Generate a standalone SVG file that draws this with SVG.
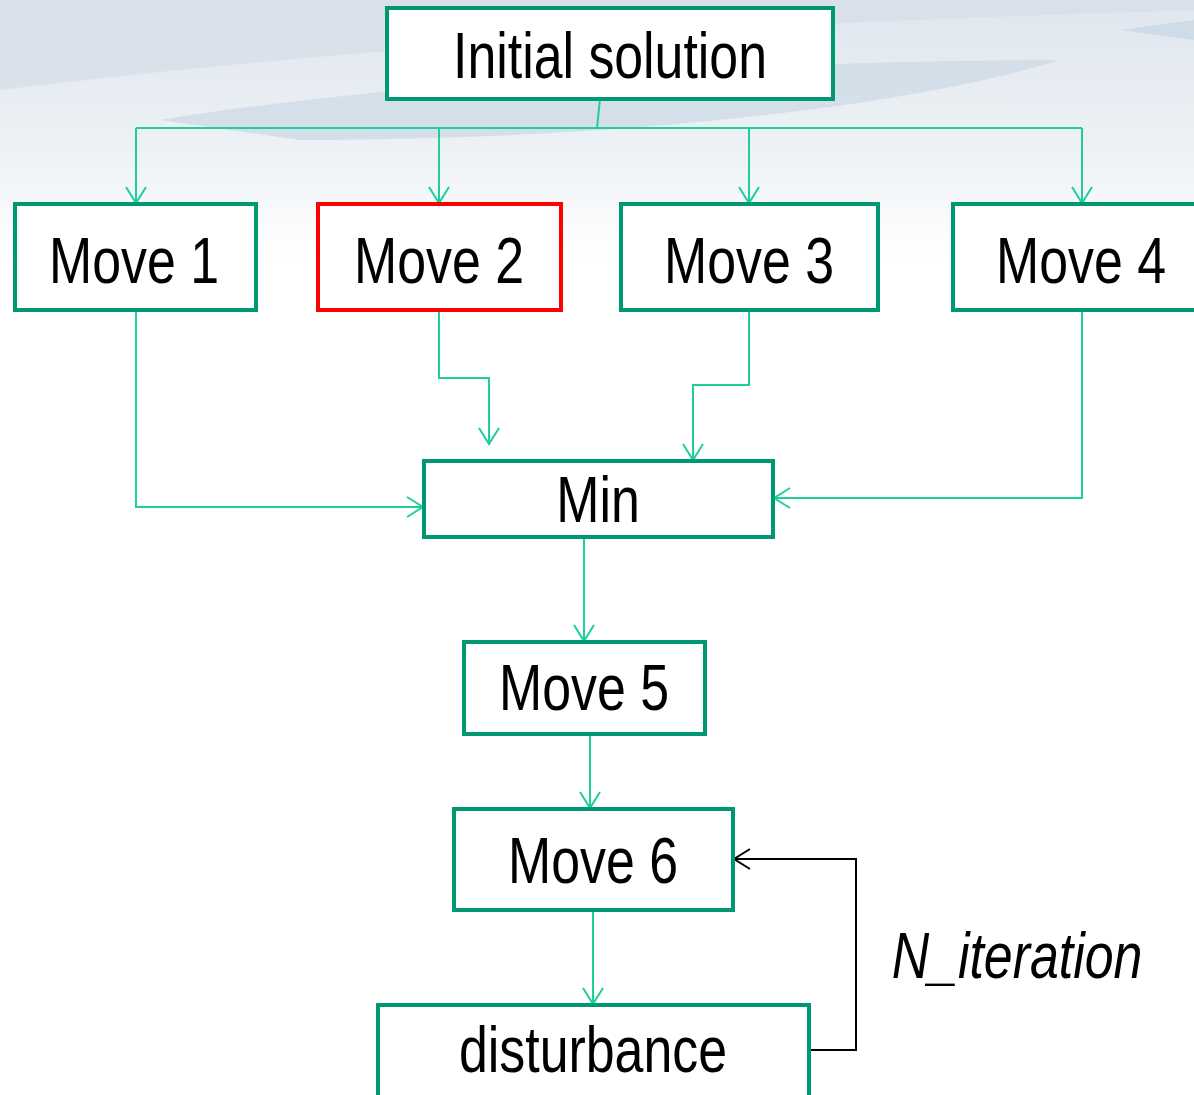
<svg xmlns="http://www.w3.org/2000/svg" width="1194" height="1095" viewBox="0 0 1194 1095">
<defs>
<linearGradient id="bg" x1="0" y1="0" x2="0" y2="1">
<stop offset="0" stop-color="#dfe6ee"/>
<stop offset="0.6" stop-color="#eef2f6"/>
<stop offset="1" stop-color="#ffffff"/>
</linearGradient>
<marker id="ag" viewBox="0 0 20 24" refX="18" refY="12" markerWidth="20" markerHeight="24" markerUnits="userSpaceOnUse" orient="auto">
<path d="M2,2 L18,12 L2,22" fill="none" stroke="#1ecf9c" stroke-width="2"/>
</marker>
<marker id="ak" viewBox="0 0 20 24" refX="18" refY="12" markerWidth="20" markerHeight="24" markerUnits="userSpaceOnUse" orient="auto">
<path d="M2,2 L18,12 L2,22" fill="none" stroke="#000" stroke-width="2"/>
</marker>
</defs>
<style>
.box{fill:#fff;stroke:#009872;stroke-width:4}
.red{fill:#fff;stroke:#ff0000;stroke-width:4}
.lbl{font-family:"Liberation Sans Narrow","Arial Narrow","Liberation Sans",sans-serif;font-size:64px;fill:#000;text-anchor:middle}
.c{fill:none;stroke:#1ecf9c;stroke-width:2}
.k{fill:none;stroke:#000;stroke-width:2}
</style>
<rect width="1194" height="1095" fill="#fff"/>
<rect width="1194" height="260" fill="url(#bg)"/>
<path d="M0,0 L1194,0 L1194,10 C900,20 500,30 0,90 Z" fill="#d4dde7" opacity="0.7"/>
<path d="M160,120 C400,80 800,60 1060,60 C900,110 600,140 300,140 Z" fill="#cfdbe6" opacity="0.8"/>
<path d="M1120,30 L1194,20 L1194,40 Z" fill="#cfdbe6"/>

<g id="connectors">
<path class="c" d="M600,99 L597,128"/>
<path class="c" d="M136,128 L1082,128"/>
<path class="c" d="M136,128 L136,203" marker-end="url(#ag)"/>
<path class="c" d="M439,128 L439,203" marker-end="url(#ag)"/>
<path class="c" d="M749,128 L749,203" marker-end="url(#ag)"/>
<path class="c" d="M1082,128 L1082,203" marker-end="url(#ag)"/>
<path class="c" d="M136,310 L136,507 L423,507" marker-end="url(#ag)"/>
<path class="c" d="M439,310 L439,378 L489,378 L489,444" marker-end="url(#ag)"/>
<path class="c" d="M749,310 L749,385 L693,385 L693,460" marker-end="url(#ag)"/>
<path class="c" d="M1082,310 L1082,498 L774,498" marker-end="url(#ag)"/>
<path class="c" d="M584,537 L584,641" marker-end="url(#ag)"/>
<path class="c" d="M590,734 L590,808" marker-end="url(#ag)"/>
<path class="c" d="M593,910 L593,1004" marker-end="url(#ag)"/>
<path class="k" d="M809,1050 L856,1050 L856,859 L734,859" marker-end="url(#ak)"/>
</g>

<g id="initial"><rect class="box" x="387" y="8" width="446" height="91"/><text class="lbl" transform="translate(610,78) scale(0.81,1)">Initial solution</text></g>
<g id="move1"><rect class="box" x="15" y="204" width="241" height="106"/><text class="lbl" transform="translate(134,283) scale(0.81,1)">Move 1</text></g>
<g id="move2"><rect class="red" x="318" y="204" width="243" height="106"/><text class="lbl" transform="translate(439,283) scale(0.81,1)">Move 2</text></g>
<g id="move3"><rect class="box" x="621" y="204" width="257" height="106"/><text class="lbl" transform="translate(749,283) scale(0.81,1)">Move 3</text></g>
<g id="move4"><rect class="box" x="953" y="204" width="245" height="106"/><text class="lbl" transform="translate(1081,283) scale(0.81,1)">Move 4</text></g>
<g id="min"><rect class="box" x="424" y="461" width="349" height="76"/><text class="lbl" transform="translate(598,522) scale(0.81,1)">Min</text></g>
<g id="move5"><rect class="box" x="464" y="642" width="241" height="92"/><text class="lbl" transform="translate(584,710) scale(0.81,1)">Move 5</text></g>
<g id="move6"><rect class="box" x="454" y="809" width="279" height="101"/><text class="lbl" transform="translate(593,883) scale(0.81,1)">Move 6</text></g>
<g id="disturbance"><rect class="box" x="378" y="1005" width="431" height="96"/><text class="lbl" transform="translate(593,1072) scale(0.81,1)">disturbance</text></g>
<text class="lbl" transform="translate(1017,978) scale(0.81,1)" font-style="italic">N_iteration</text>
</svg>
